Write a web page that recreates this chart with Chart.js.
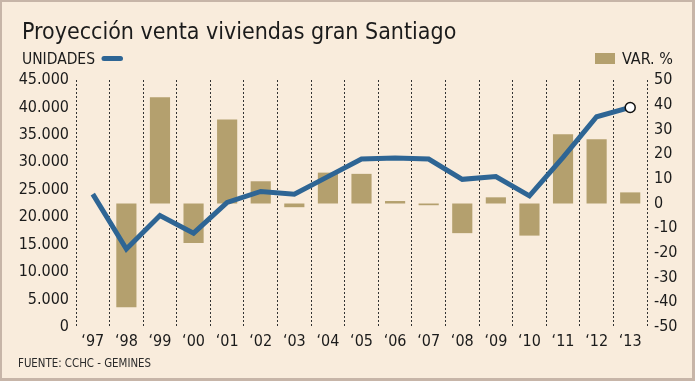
<!DOCTYPE html>
<html><head><meta charset="utf-8">
<script src="https://cdn.jsdelivr.net/npm/chart.js@4"></script>
<style>
html,body{margin:0;padding:0;background:#F9ECDC;overflow:hidden;}
canvas{display:block}
</style></head><body>
<canvas id="c" width="695" height="381"></canvas>
<script>
const categories = ['\u201897','\u201898','\u201899','\u201800','\u201801','\u201802','\u201803','\u201804','\u201805','\u201806','\u201807','\u201808','\u201809','\u201810','\u201811','\u201812','\u201813'];
const unidades = [24200,14200,20300,17100,22700,24700,24200,27400,30600,30800,30600,26900,27400,23900,30900,38300,40000];
const variacion = [null,-42,43,-16,34,9,-1.5,12.5,12,1,-0.7,-12,2.5,-13,28,26,4.5];
const leftTicks = [0,5000,10000,15000,20000,25000,30000,35000,40000,45000];
const rightTicks = [-50,-40,-30,-20,-10,0,10,20,30,40,50];
const titleText = 'Proyección venta viviendas gran Santiago';
const lineLabel = 'UNIDADES';
const barLabel = 'VAR. %';
const sourceText = 'FUENTE: CCHC - GEMINES';

const FONT = '"DejaVu Sans Condensed","DejaVu Sans",sans-serif';
const INK = '#1b1b1b';
const LINE_COLOR = '#2E6594';
const BAR_COLOR = '#B4A06E';

function fmt(v){ return String(v).replace(/\B(?=(\d{3})+(?!\d))/g, '.'); }

const decor = {
  id: 'decor',
  beforeDraw(chart){
    const ctx = chart.ctx;
    ctx.save();
    ctx.fillStyle = '#F9ECDC';
    ctx.fillRect(0,0,chart.width,chart.height);
    ctx.restore();
  },
  afterDraw(chart){
    const ctx = chart.ctx;
    ctx.save();
    ctx.fillStyle = INK;
    ctx.textBaseline = 'alphabetic';
    ctx.textAlign = 'left';
    ctx.font = '23px ' + FONT;
    ctx.fillText(titleText, 22, 38.5, 456);
    ctx.font = '16px ' + FONT;
    ctx.fillText(lineLabel, 22, 64, 73);
    ctx.fillText(barLabel, 622, 64, 53);
    ctx.font = '12px ' + FONT;
    ctx.fillStyle = '#2a2a2a';
    ctx.fillText(sourceText, 18, 366.5, 133);
    // legend samples
    ctx.strokeStyle = LINE_COLOR;
    ctx.lineWidth = 5;
    ctx.lineCap = 'round';
    ctx.beginPath(); ctx.moveTo(104, 58.5); ctx.lineTo(120.5, 58.5); ctx.stroke();
    ctx.fillStyle = BAR_COLOR;
    ctx.fillRect(595, 53, 20, 11);
    // frame
    ctx.fillStyle = '#C7B5A8';
    ctx.fillRect(0,0,chart.width,2);
    ctx.fillRect(0,0,2,chart.height);
    ctx.fillRect(chart.width-3,0,3,chart.height);
    ctx.fillRect(0,chart.height-3,chart.width,3);
    ctx.restore();
  }
};

new Chart(document.getElementById('c'), {
  data: {
    labels: categories,
    datasets: [
      {
        type: 'line', label: lineLabel, data: unidades, yAxisID: 'y', order: 0,
        borderColor: LINE_COLOR, borderWidth: 5, tension: 0,
        borderJoinStyle: 'miter', borderCapStyle: 'butt',
        pointRadius: unidades.map((v,i) => i === unidades.length-1 ? 5 : 0),
        pointBackgroundColor: '#ffffff', pointBorderColor: '#111111', pointBorderWidth: 1.5,
        fill: false
      },
      {
        type: 'bar', label: barLabel, data: variacion, yAxisID: 'y1', order: 1,
        backgroundColor: BAR_COLOR, borderWidth: 0,
        barPercentage: 0.6, categoryPercentage: 1.0
      }
    ]
  },
  options: {
    responsive: false, animation: false, devicePixelRatio: 1,
    layout: { padding: { top: 80, left: 0, right: 0, bottom: 0 } },
    plugins: { legend: { display: false }, title: { display: false }, tooltip: { enabled: false } },
    scales: {
      x: {
        type: 'category', offset: true,
        grid: { display: true, offset: true, color: '#333333', lineWidth: 1, drawTicks: false },
        border: { display: false, dash: [2,2] },
        ticks: { color: INK, font: { family: FONT, size: 16 }, padding: 5, maxRotation: 0, autoSkip: false },
        afterFit(s){ s.height = 54; }
      },
      y: {
        position: 'left', min: 0, max: 45000,
        afterBuildTicks(s){ s.ticks = leftTicks.map(v => ({ value: v })); },
        grid: { display: false, drawTicks: false },
        border: { display: false },
        ticks: { color: INK, font: { family: FONT, size: 16 }, padding: 7, callback: v => fmt(v) },
        afterFit(s){ s.width = 76; }
      },
      y1: {
        position: 'right', min: -50, max: 50,
        afterBuildTicks(s){ s.ticks = rightTicks.map(v => ({ value: v })); },
        grid: { display: false, drawTicks: false },
        border: { display: false },
        ticks: { color: INK, font: { family: FONT, size: 16 }, padding: 7 },
        afterFit(s){ s.width = 48; }
      }
    }
  },
  plugins: [decor]
});
</script>
</body></html>
